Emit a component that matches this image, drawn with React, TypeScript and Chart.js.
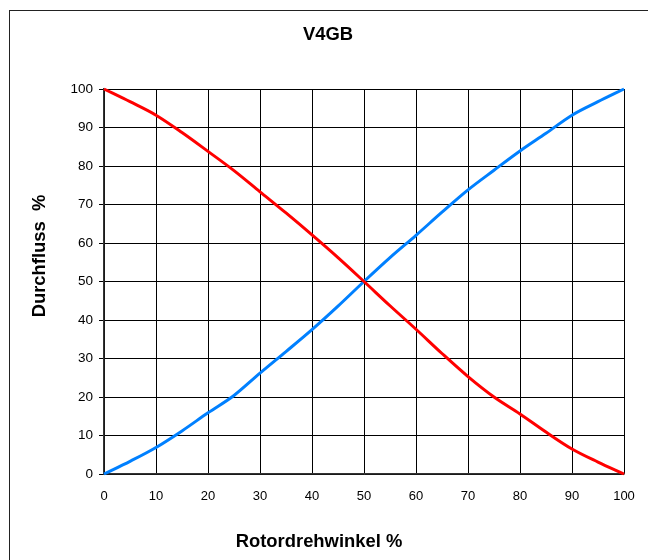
import React, { useEffect, useRef } from "react";
import { Chart, registerables } from "chart.js";

Chart.register(...registerables);

const titleText = "V4GB";
const xTitle = "Rotordrehwinkel %";
const yTitle = "Durchfluss  %";

const angle = [0, 5, 10, 15, 20, 25, 30, 35, 40, 45, 50, 55, 60, 65, 70, 75, 80, 85, 90, 95, 100];
const closingFlow = [100, 96.7, 93.2, 88.7, 83.8, 78.8, 73.3, 67.8, 62.1, 56.2, 50, 43.7, 37.6, 31.3, 25.3, 20.0, 15.6, 10.9, 6.5, 3.1, 0];
const openingFlow = [0, 3.3, 6.9, 11.2, 15.9, 20.4, 26.2, 31.8, 37.5, 43.6, 50, 56.2, 62, 68, 73.8, 78.9, 83.9, 88.5, 93.2, 96.7, 100];

const FONT = "'Liberation Sans', Arial, sans-serif";

const decorPlugin = {
  id: "decor",
  beforeDraw(chart: any) {
    const ctx = chart.ctx;
    ctx.save();
    ctx.fillStyle = "#ffffff";
    ctx.fillRect(0, 0, chart.width, chart.height);
    ctx.strokeStyle = "#222222";
    ctx.lineWidth = 1;
    ctx.strokeRect(9.5, 10.5, 700, 700);
    ctx.restore();
  },
  afterDraw(chart: any) {
    const ctx = chart.ctx;
    ctx.save();
    ctx.fillStyle = "#000000";
    ctx.font = `bold 18.4px ${FONT}`;
    ctx.textAlign = "center";
    ctx.textBaseline = "alphabetic";
    ctx.fillText(titleText, 328, 40);
    ctx.fillText(xTitle, 319, 547);
    ctx.translate(44.5, 256);
    ctx.rotate(-Math.PI / 2);
    ctx.fillText(yTitle, 0, 0);
    ctx.restore();
  },
};

export default function App() {
  const ref = useRef<HTMLCanvasElement | null>(null);
  useEffect(() => {
    if (!ref.current) return;
    const chart = new Chart(ref.current, {
      type: "line",
      data: {
        datasets: [
          {
            label: "closing",
            data: angle.map((a, i) => ({ x: a, y: closingFlow[i] })),
            borderColor: "#ff0000",
            borderWidth: 3,
            pointRadius: 0,
            cubicInterpolationMode: "monotone",
            clip: false as any,
          },
          {
            label: "opening",
            data: angle.map((a, i) => ({ x: a, y: openingFlow[i] })),
            borderColor: "#0080ff",
            borderWidth: 3,
            pointRadius: 0,
            cubicInterpolationMode: "monotone",
            clip: false as any,
          },
        ],
      },
      options: {
        animation: false,
        responsive: false,
        maintainAspectRatio: false,
        devicePixelRatio: 1,
        layout: { padding: { top: 89, left: 0, right: 24, bottom: 0 } },
        plugins: {
          legend: { display: false },
          title: { display: false },
          tooltip: { enabled: false },
        },
        scales: {
          x: {
            type: "linear",
            min: 0,
            max: 100,
            ticks: {
              stepSize: 10,
              color: "#000",
              font: { family: FONT, size: 13 },
              padding: 15,
              maxRotation: 0,
            },
            grid: { color: "#000", lineWidth: 1, drawTicks: false },
            border: { display: true, color: "#333", width: 1.5 },
            afterFit(scale: any) {
              scale.height = 86;
              scale.paddingLeft = 0;
              scale.paddingRight = 0;
            },
          },
          y: {
            type: "linear",
            min: 0,
            max: 100,
            ticks: {
              stepSize: 10,
              color: "#000",
              font: { family: FONT, size: 13.5 },
              padding: 6,
            },
            grid: { color: "#000", lineWidth: 1, tickLength: 5, drawTicks: true },
            border: { display: true, color: "#333", width: 1.5 },
            afterFit(scale: any) {
              scale.width = 104;
              scale.paddingTop = 0;
              scale.paddingBottom = 0;
            },
          },
        },
      },
      plugins: [decorPlugin],
    } as any);
    return () => chart.destroy();
  }, []);
  return (
    <div style={{ position: "absolute", left: 0, top: 0, width: 648, height: 560 }}>
      <canvas ref={ref} width={648} height={560} style={{ width: 648, height: 560, display: "block" }} />
    </div>
  );
}
